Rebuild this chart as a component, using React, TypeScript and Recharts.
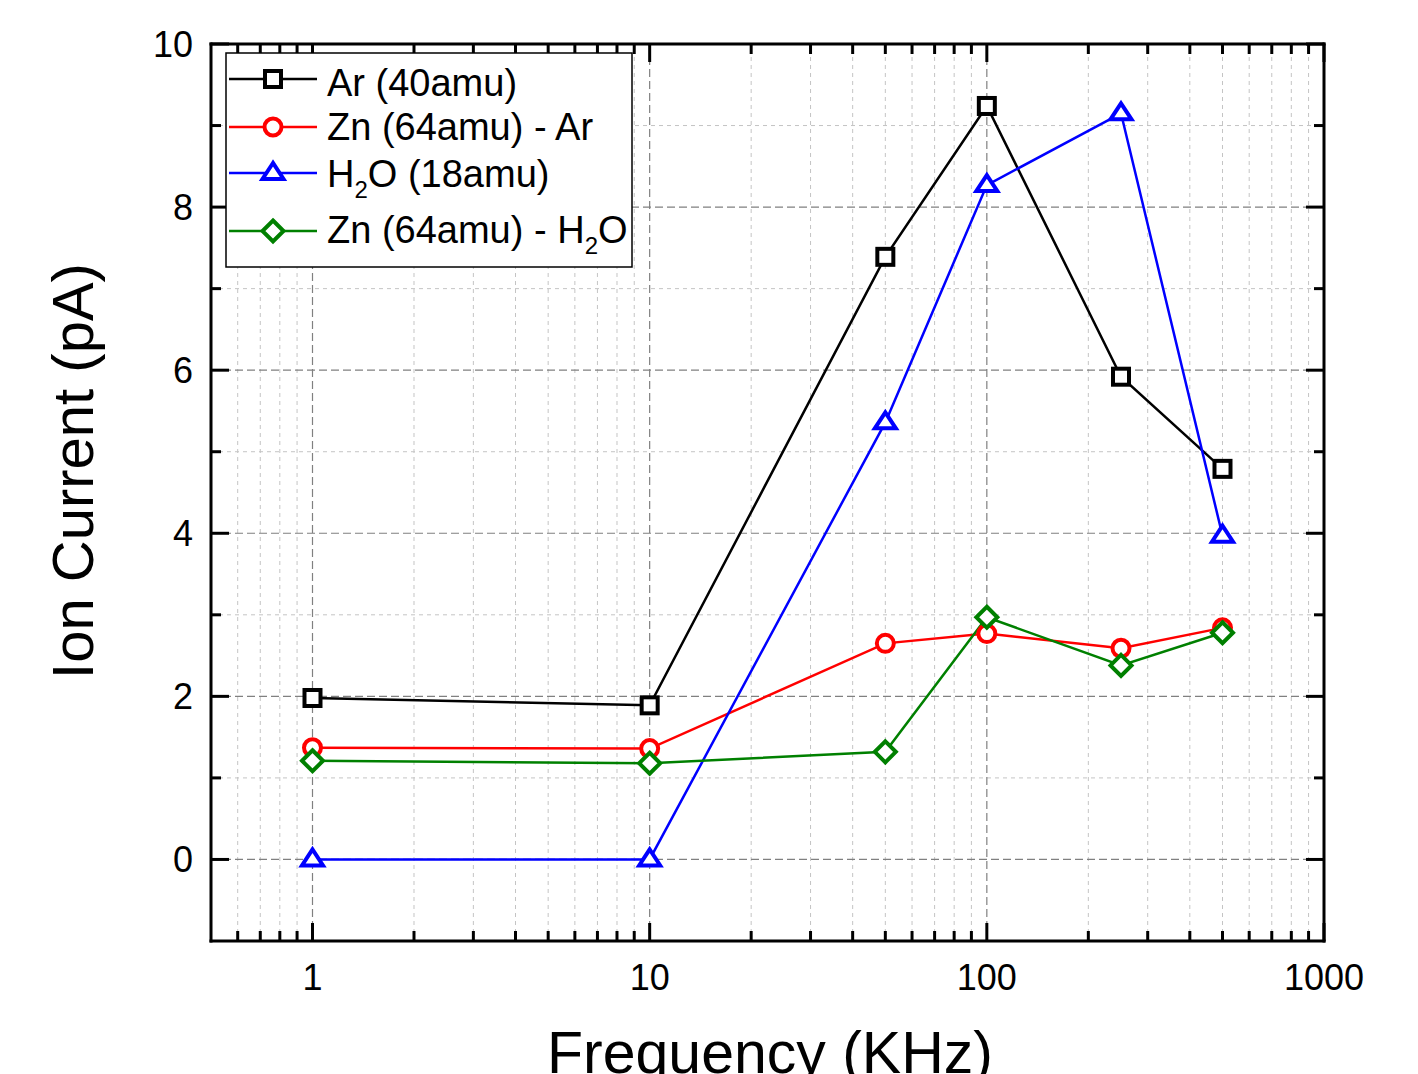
import React from 'react';
import { LineChart, Line, XAxis, YAxis, ReferenceLine } from 'recharts';

// ---- data ----
const frequencies = [1, 10, 50, 100, 250, 500];
const arValues = [1.98, 1.89, 7.39, 9.24, 5.92, 4.79];
const znArValues = [1.37, 1.36, 2.65, 2.77, 2.59, 2.84];
const h2oValues = [0, 0, 5.36, 8.27, 9.15, 3.97];
const znH2oValues = [1.21, 1.18, 1.32, 2.97, 2.38, 2.78];

const xMajorTicks = [1, 10, 100, 1000];
const xMinorTicks = [0.6, 0.7, 0.8, 0.9, 2, 3, 4, 5, 6, 7, 8, 9, 20, 30, 40, 50, 60, 70, 80, 90, 200, 300, 400, 500, 600, 700, 800, 900];
const yMajorTicks = [0, 2, 4, 6, 8, 10];
const yMinorTicks = [1, 3, 5, 7, 9];
const xDomain = [0.5, 1000];
const yDomain = [-1, 10];

const FONT = '"Liberation Sans", Arial, Helvetica, sans-serif';

type Shape = 'square' | 'circle' | 'triangle' | 'diamond';
const seriesList: { key: string; label: string; sub?: string; after?: string; color: string; shape: Shape }[] = [
  { key: 'ar', label: 'Ar (40amu)', color: '#000000', shape: 'square' },
  { key: 'znAr', label: 'Zn (64amu) - Ar', color: '#ff0000', shape: 'circle' },
  { key: 'h2o', label: 'H', sub: '2', after: 'O (18amu)', color: '#0000ff', shape: 'triangle' },
  { key: 'znH2o', label: 'Zn (64amu) - H', sub: '2', after: 'O', color: '#008000', shape: 'diamond' },
];

const data = frequencies.map((f, i) => ({
  freq: f,
  ar: arValues[i],
  znAr: znArValues[i],
  h2o: h2oValues[i],
  znH2o: znH2oValues[i],
}));

const allXTicks = [...xMinorTicks, ...xMajorTicks].sort((a, b) => a - b);
const allYTicks = [...yMajorTicks, ...yMinorTicks].sort((a, b) => a - b);

function Marker({ cx, cy, shape, color }: { cx: number; cy: number; shape: Shape; color: string }) {
  const sw = 4;
  if (shape === 'square') {
    return <rect x={cx - 8} y={cy - 8} width={16} height={16} fill="#fff" stroke={color} strokeWidth={sw} />;
  }
  if (shape === 'circle') {
    return <circle cx={cx} cy={cy} r={8.5} fill="#fff" stroke={color} strokeWidth={sw} />;
  }
  if (shape === 'triangle') {
    const pts = `${cx},${cy - 10} ${cx - 10.5},${cy + 6} ${cx + 10.5},${cy + 6}`;
    return <polygon points={pts} fill="#fff" stroke={color} strokeWidth={sw} strokeLinejoin="miter" />;
  }
  const pts = `${cx},${cy - 10.5} ${cx + 10.5},${cy} ${cx},${cy + 10.5} ${cx - 10.5},${cy}`;
  return <polygon points={pts} fill="#fff" stroke={color} strokeWidth={sw} />;
}

const BottomTick = (props: any) => {
  const { x, y, payload } = props;
  const v = payload.value;
  const major = xMajorTicks.includes(v);
  return (
    <g>
      <line x1={x} x2={x} y1={y} y2={y - (major ? 18 : 10)} stroke="#000" strokeWidth={3} />
      {major && (
        <text x={x} y={y + 49} textAnchor="middle" fontSize={36} fontFamily={FONT} fill="#000">
          {v}
        </text>
      )}
    </g>
  );
};

const TopTick = (props: any) => {
  const { x, y, payload } = props;
  const major = xMajorTicks.includes(payload.value);
  return <line x1={x} x2={x} y1={y} y2={y + (major ? 18 : 10)} stroke="#000" strokeWidth={3} />;
};

const LeftTick = (props: any) => {
  const { x, y, payload } = props;
  const v = payload.value;
  const major = yMajorTicks.includes(v);
  return (
    <g>
      <line x1={x} x2={x + (major ? 18 : 10)} y1={y} y2={y} stroke="#000" strokeWidth={3} />
      {major && (
        <text x={x - 18} y={y + 12.5} textAnchor="end" fontSize={36} fontFamily={FONT} fill="#000">
          {v}
        </text>
      )}
    </g>
  );
};

const RightTick = (props: any) => {
  const { x, y, payload } = props;
  const major = yMajorTicks.includes(payload.value);
  return <line x1={x} x2={x - (major ? 18 : 10)} y1={y} y2={y} stroke="#000" strokeWidth={3} />;
};

const YTitle = () => (
  <text
    x={93}
    y={471}
    transform="rotate(-90 93 471)"
    textAnchor="middle"
    fontSize={58}
    fontFamily={FONT}
    fill="#000"
  >
    Ion Current (pA)
  </text>
);

const XTitle = () => (
  <text x={770} y={1073} textAnchor="middle" fontSize={59} fontFamily={FONT} fill="#000">
    Frequency (KHz)
  </text>
);

function LegendBox() {
  const rowsY = [79, 127, 173, 231];
  const baseY = [96, 140, 187, 243];
  return (
    <svg
      width={1418}
      height={1074}
      style={{ position: 'absolute', left: 0, top: 0, pointerEvents: 'none' }}
    >
      <rect x={226} y={53} width={406} height={214} fill="#fff" stroke="#000" strokeWidth={1.5} />
      {seriesList.map((s, i) => (
        <g key={s.key}>
          <line x1={229} x2={317} y1={rowsY[i]} y2={rowsY[i]} stroke={s.color} strokeWidth={2.5} />
          <Marker cx={273} cy={rowsY[i]} shape={s.shape} color={s.color} />
          <text x={327} y={baseY[i]} fontSize={38} fontFamily={FONT} fill="#000">
            {s.label}
            {s.sub && (
              <tspan fontSize={24} dy={11}>
                {s.sub}
              </tspan>
            )}
            {s.after && <tspan dy={s.sub ? -11 : 0}>{s.after}</tspan>}
          </text>
        </g>
      ))}
    </svg>
  );
}

export default function App() {
  return (
    <div style={{ position: 'absolute', left: 0, top: 0, width: 1418, height: 1074, background: '#fff' }}>
      <LineChart
        width={1418}
        height={1074}
        data={data}
        margin={{ top: 34, right: 84, bottom: 73, left: 131 }}
      >
        <XAxis
          dataKey="freq"
          type="number"
          scale="log"
          domain={xDomain}
          allowDataOverflow
          ticks={allXTicks}
          interval={0}
          tickSize={0}
          tickMargin={0}
          tickLine={false}
          tick={<BottomTick />}
          height={60}
          axisLine={{ stroke: '#000', strokeWidth: 3, strokeLinecap: 'square' }}
          label={<XTitle />}
        />
        <XAxis
          xAxisId="top"
          orientation="top"
          dataKey="freq"
          type="number"
          scale="log"
          domain={xDomain}
          allowDataOverflow
          ticks={allXTicks}
          interval={0}
          tickSize={0}
          tickMargin={0}
          tickLine={false}
          tick={<TopTick />}
          height={10}
          axisLine={{ stroke: '#000', strokeWidth: 3, strokeLinecap: 'square' }}
        />
        <YAxis
          type="number"
          domain={yDomain}
          allowDataOverflow
          ticks={allYTicks}
          interval={0}
          tickSize={0}
          tickMargin={0}
          tickLine={false}
          tick={<LeftTick />}
          width={80}
          axisLine={{ stroke: '#000', strokeWidth: 3, strokeLinecap: 'square' }}
          label={<YTitle />}
        />
        <YAxis
          yAxisId="right"
          orientation="right"
          type="number"
          domain={yDomain}
          allowDataOverflow
          ticks={allYTicks}
          interval={0}
          tickSize={0}
          tickMargin={0}
          tickLine={false}
          tick={<RightTick />}
          width={10}
          axisLine={{ stroke: '#000', strokeWidth: 3, strokeLinecap: 'square' }}
        />
        {xMinorTicks.map((v) => (
          <ReferenceLine key={'xm' + v} x={v} stroke="#c4c4c4" strokeWidth={1} strokeDasharray="4 4" />
        ))}
        {yMinorTicks.map((v) => (
          <ReferenceLine key={'ym' + v} y={v} stroke="#c4c4c4" strokeWidth={1} strokeDasharray="4 4" />
        ))}
        {xMajorTicks.filter((v) => v < 1000).map((v) => (
          <ReferenceLine key={'xM' + v} x={v} stroke="#808080" strokeWidth={1.2} strokeDasharray="8 4" />
        ))}
        {yMajorTicks.filter((v) => v < 10).map((v) => (
          <ReferenceLine key={'yM' + v} y={v} stroke="#808080" strokeWidth={1.2} strokeDasharray="8 4" />
        ))}
        {seriesList.map((s) => (
          <Line
            key={s.key}
            dataKey={s.key}
            type="linear"
            stroke={s.color}
            strokeWidth={2.5}
            isAnimationActive={false}
            dot={(p: any) => (
              <Marker key={s.key + p.index} cx={p.cx} cy={p.cy} shape={s.shape} color={s.color} />
            )}
            activeDot={false}
          />
        ))}
      </LineChart>
      <LegendBox />
    </div>
  );
}
